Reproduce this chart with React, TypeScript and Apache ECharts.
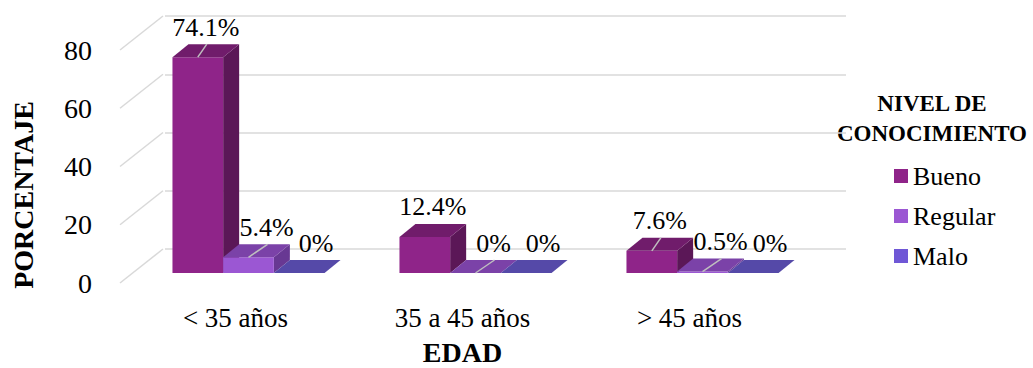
import React, { useEffect, useRef } from "react";
import * as echarts from "echarts";

// Data
const categories = ["< 35 años", "35 a 45 años", "> 45 años"];
const seriesNames = ["Bueno", "Regular", "Malo"];
const bueno = [74.1, 12.4, 7.6];
const regular = [5.4, 0, 0.5];
const malo = [0, 0, 0];
const yTicks = [0, 20, 40, 60, 80];
// which data labels carry a leader line across the bar top
const leaderBueno = [true, false, true];
const leaderRegular = [true, true, true];
const leaderMalo = [false, false, false];

const FONT = "Liberation Serif";
const GRID_COLOR = "#D9D9D9";

// Oblique projection offsets (pixels)
const FRONT = [13, -10]; // bar front face from the front plane
const DEPTH = [16, -13]; // bar depth
const WALL = [43, -34]; // back wall from the front plane
const BAR_RATIO = 0.2233; // bar width as a fraction of the category band

type Palette = { front: string; top: string; side: string; legend: string };

const palettes: Palette[] = [
  { front: "#8F2489", top: "#701C6B", side: "#5B1757", legend: "#8F2489" },
  { front: "#9B57D3", top: "#7B42A8", side: "#683893", legend: "#9B57D3" },
  { front: "#6F57D6", top: "#5549A8", side: "#46398C", legend: "#6F57D6" },
];
const labelShifts = [0, 10, 9];

function barRenderer(si: number, pal: Palette, labelShift: number, leaders: boolean[]) {
  return (params: any, api: any) => {
    const idx = api.value(0);
    const val = api.value(1);
    const band = api.size([1, 0])[0];
    const w = band * BAR_RATIO;
    const base = api.coord([idx, 0]);
    const top = api.coord([idx, val]);
    const cx = base[0] + (si - 1) * w + FRONT[0];
    const x0 = cx - w / 2;
    const x1 = cx + w / 2;
    const yb = base[1] + FRONT[1];
    const yt = top[1] + FRONT[1];
    const [dx, dy] = DEPTH;
    const children: any[] = [];
    if (yb - yt > 0.5) {
      children.push({
        type: "polygon",
        shape: { points: [[x1, yt], [x1 + dx, yt + dy], [x1 + dx, yb + dy], [x1, yb]] },
        style: { fill: pal.side },
      });
      children.push({
        type: "rect",
        shape: { x: x0, y: yt, width: w, height: yb - yt },
        style: { fill: pal.front },
      });
    }
    children.push({
      type: "polygon",
      shape: { points: [[x0, yt], [x1, yt], [x1 + dx, yt + dy], [x0 + dx, yt + dy]] },
      style: { fill: pal.top },
    });
    const lx = cx + dx / 2 + labelShift;
    const ly = yt + dy - 17;
    if (leaders[params.dataIndex]) {
      children.push({
        type: "line",
        z2: 5,
        shape: { x1: cx, y1: yt, x2: lx + 1, y2: yt + dy },
        style: { stroke: "#BFBFBF", lineWidth: 1.5 },
      });
    }
    children.push({
      type: "text",
      z2: 10,
      x: lx,
      y: ly,
      style: {
        text: `${val}%`,
        fill: "#000",
        fontSize: 26,
        fontFamily: FONT,
        align: "center",
        verticalAlign: "middle",
      },
    });
    return { type: "group", children };
  };
}

const seriesValues = [bueno, regular, malo];
const seriesLeaders = [leaderBueno, leaderRegular, leaderMalo];

export default function App() {
  const ref = useRef<HTMLDivElement>(null);

  useEffect(() => {
    document.body.style.margin = "0";
    const chart = echarts.init(ref.current!, null, { renderer: "svg" });

    const barSeries = seriesNames.map((name, si) => ({
      type: "custom",
      name,
      xAxisIndex: 0,
      yAxisIndex: 0,
      itemStyle: { color: palettes[si].legend },
      data: seriesValues[si].map((v, i) => [i, v]),
      encode: { x: 0, y: 1 },
      renderItem: barRenderer(si, palettes[si], labelShifts[si], seriesLeaders[si]),
      z: 3,
    }));

    chart.setOption({
      animation: false,
      grid: [
        { left: 122, right: 230, top: 50, bottom: 85, outerBoundsMode: "none", containLabel: false },
        { left: 165, right: 187, top: 16, bottom: 119, outerBoundsMode: "none", containLabel: false },
      ],
      xAxis: [
        {
          type: "category",
          gridIndex: 0,
          data: categories,
          axisLine: { show: false },
          axisTick: { show: false },
          axisLabel: { fontSize: 27, fontFamily: FONT, color: "#000", margin: 21 },
          name: "EDAD",
          nameLocation: "middle",
          nameGap: 55,
          nameTextStyle: { fontSize: 28, fontWeight: "bold", fontFamily: FONT, color: "#000" },
        },
        { type: "value", gridIndex: 1, show: false, min: 0, max: 1 },
      ],
      yAxis: [
        {
          type: "value",
          gridIndex: 0,
          min: 0,
          max: 80,
          interval: 20,
          axisLine: { show: false },
          axisTick: { show: false },
          splitLine: { show: false },
          axisLabel: { fontSize: 28, fontFamily: FONT, color: "#000", margin: 30 },
        },
        {
          type: "value",
          gridIndex: 1,
          min: 0,
          max: 80,
          interval: 20,
          axisLine: { show: false },
          axisTick: { show: false },
          axisLabel: { show: false },
          splitLine: { show: true, lineStyle: { color: GRID_COLOR, width: 1.5 } },
        },
      ],
      legend: {
        data: seriesNames,
        orient: "vertical",
        left: 894,
        top: 163,
        padding: 0,
        itemWidth: 14,
        itemHeight: 14,
        itemGap: 14,
        icon: "rect",
        textStyle: { fontSize: 26, fontFamily: FONT, color: "#000" },
      },
      graphic: [
        {
          type: "text",
          x: 932,
          y: 88,
          style: {
            text: "NIVEL DE\nCONOCIMIENTO",
            fontSize: 23,
            fontWeight: "bold",
            fontFamily: FONT,
            fill: "#000",
            align: "center",
            verticalAlign: "top",
            lineHeight: 30,
          },
        },
        {
          type: "text",
          x: 23,
          y: 195,
          rotation: Math.PI / 2,
          style: {
            text: "PORCENTAJE",
            fontSize: 28,
            fontWeight: "bold",
            fontFamily: FONT,
            fill: "#000",
            align: "center",
            verticalAlign: "middle",
          },
        },
      ],
      series: [
        {
          type: "custom",
          name: "wall-edges",
          silent: true,
          xAxisIndex: 0,
          yAxisIndex: 0,
          data: yTicks.map((v) => [0, v]),
          encode: { x: 0, y: 1 },
          z: 1,
          renderItem: (params: any, api: any) => {
            const p = api.coord([0, api.value(1)]);
            const x = params.coordSys.x - 2;
            return {
              type: "line",
              shape: { x1: x, y1: p[1], x2: x + WALL[0], y2: p[1] + WALL[1] },
              style: { stroke: GRID_COLOR, lineWidth: 1.5 },
            };
          },
        },
        ...barSeries,
      ],
    });

    return () => chart.dispose();
  }, []);

  return (
    <div
      ref={ref}
      style={{ position: "absolute", left: 0, top: 0, width: 1033, height: 368, background: "#fff" }}
    />
  );
}
